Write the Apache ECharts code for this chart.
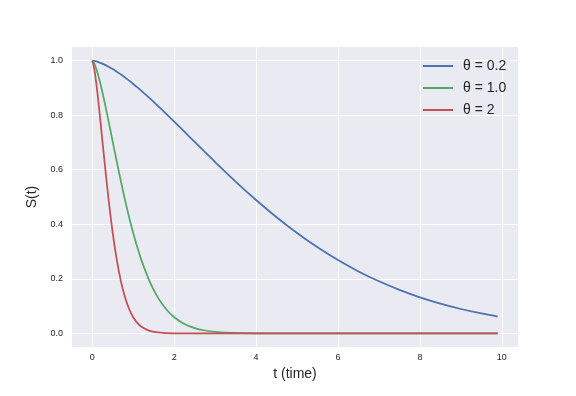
<!DOCTYPE html>
<html>
<head>
<meta charset="utf-8">
<script src="https://cdn.jsdelivr.net/npm/echarts@6/dist/echarts.min.js"></script>
<style>html,body{margin:0;padding:0;background:#fff}#c{width:576px;height:396px}</style>
</head>
<body>
<div id="c"></div>
<script>
var tValues = [0, 0.05, 0.1, 0.15, 0.2, 0.3, 0.4, 0.5, 0.6, 0.7, 0.8, 0.9, 1.0, 1.1, 1.2, 1.4, 1.6, 1.8, 2.0, 2.25, 2.5, 2.75, 3.0, 3.5, 4.0, 4.5, 5.0, 5.5, 6.0, 6.5, 7.0, 7.5, 8.0, 8.5, 9.0, 9.5, 9.9];
var theta02 = [1, 0.999, 0.9972, 0.9948, 0.992, 0.9854, 0.9776, 0.9689, 0.9593, 0.949, 0.938, 0.9265, 0.9144, 0.902, 0.8891, 0.8623, 0.8344, 0.8057, 0.7765, 0.7394, 0.7022, 0.665, 0.6283, 0.5567, 0.489, 0.4258, 0.3679, 0.3155, 0.2686, 0.2271, 0.1908, 0.1593, 0.1321, 0.109, 0.0894, 0.0729, 0.0617];
var theta10 = [1, 0.9889, 0.9689, 0.9436, 0.9144, 0.8485, 0.7765, 0.7022, 0.6283, 0.5567, 0.489, 0.4258, 0.3679, 0.3155, 0.2686, 0.1908, 0.1321, 0.0894, 0.0591, 0.0342, 0.0192, 0.0105, 0.0055, 0.0014, 0.0003, 0.0001, 0, 0, 0, 0, 0, 0, 0, 0, 0, 0, 0];
var theta2 = [1, 0.9689, 0.9144, 0.8485, 0.7765, 0.6283, 0.489, 0.3679, 0.2686, 0.1908, 0.1321, 0.0894, 0.0591, 0.0383, 0.0243, 0.0092, 0.0033, 0.0011, 0.0003, 0.0001, 0, 0, 0, 0, 0, 0, 0, 0, 0, 0, 0, 0, 0, 0, 0, 0, 0];
var seriesNames = ['θ = 0.2', 'θ = 1.0', 'θ = 2'];
var xTicks = [0, 2, 4, 6, 8, 10];
var yTicks = [0, 0.2, 0.4, 0.6, 0.8, 1.0];

function pairs(vals) { return tValues.map(function (t, i) { return [t, vals[i]]; }); }
var colors = ['#4C72B0', '#55A868', '#C44E52'];
var font = '"Liberation Sans", Arial, sans-serif';
var chart = echarts.init(document.getElementById('c'), null, {renderer: 'canvas'});
var allData = [theta02, theta10, theta2];
chart.setOption({
  backgroundColor: '#ffffff',
  animation: false,
  color: colors,
  grid: {left: 72, right: 58, top: 47, bottom: 49, show: true, backgroundColor: '#EAEAF2', borderWidth: 0},
  legend: {
    orient: 'vertical', left: 423, top: 58, padding: 0,
    itemWidth: 30, itemHeight: 2, itemGap: 6,
    icon: 'rect',
    data: seriesNames,
    textStyle: {fontFamily: font, fontSize: 14, color: '#262626', lineHeight: 16, padding: [0, 0, 0, 5]}
  },
  xAxis: {
    type: 'value', min: -0.495, max: 10.395,
    name: 't (time)', nameLocation: 'middle', nameGap: 19,
    nameTextStyle: {fontFamily: font, fontSize: 14, color: '#262626'},
    axisLine: {show: false}, axisTick: {show: false, customValues: xTicks},
    axisLabel: {customValues: xTicks, fontFamily: font, fontSize: 9, color: '#262626', margin: 6},
    splitLine: {show: true, lineStyle: {color: '#ffffff', width: 1}}
  },
  yAxis: {
    type: 'value', min: -0.05, max: 1.05,
    name: 'S(t)', nameLocation: 'middle', nameGap: 30, nameRotate: 90,
    nameTextStyle: {fontFamily: font, fontSize: 14, color: '#262626'},
    axisLine: {show: false}, axisTick: {show: false, customValues: yTicks},
    axisLabel: {customValues: yTicks, fontFamily: font, fontSize: 9, color: '#262626', margin: 9,
      formatter: function (v) { return v.toFixed(1); }},
    splitLine: {show: true, lineStyle: {color: '#ffffff', width: 1}}
  },
  series: seriesNames.map(function (n, i) {
    return {name: n, type: 'line', data: pairs(allData[i]), showSymbol: false, symbol: 'none',
      smooth: 0.3, lineStyle: {width: 1.75, color: colors[i]}, itemStyle: {color: colors[i]}};
  })
});
</script>
</body>
</html>
